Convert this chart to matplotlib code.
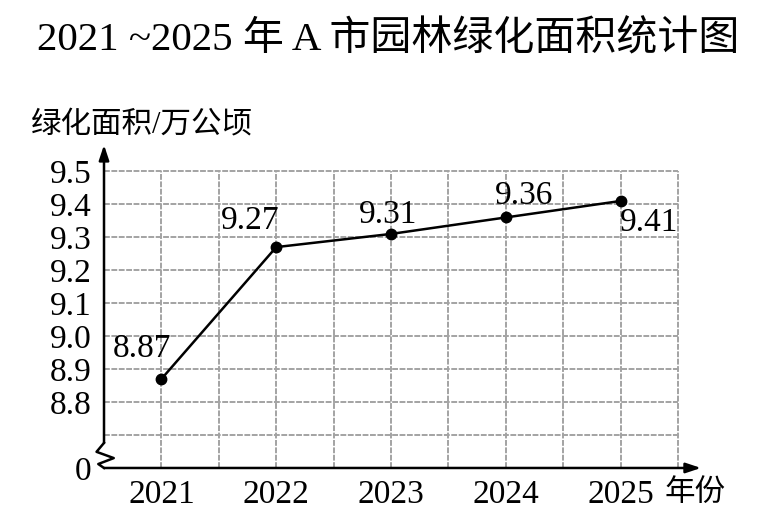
import matplotlib
matplotlib.use("Agg")
import matplotlib.pyplot as plt

plt.rcParams['font.family'] = ['Liberation Serif', 'Noto Sans CJK SC', 'DejaVu Sans']

years = [2021, 2022, 2023, 2024, 2025]
area = [8.87, 9.27, 9.31, 9.36, 9.41]
value_labels = ['8.87', '9.27', '9.31', '9.36', '9.41']
# label offsets in points (dx, dy)
label_offsets = [(-13.7, 21.6), (-18.7, 18.7), (-2.2, 13.7), (13, 15.8), (20.2, -15.8)]
ytick_vals = [8.6, 8.8, 8.9, 9.0, 9.1, 9.2, 9.3, 9.4, 9.5]
ytick_labels = ['0', '8.8', '8.9', '9.0', '9.1', '9.2', '9.3', '9.4', '9.5']

fig = plt.figure(figsize=(7.71, 5.27), dpi=100)
ax = fig.add_axes([0.1349, 0.112, 0.7743, 0.613])

x0, x1 = 2020.5, 2025.7
y0, y1 = 8.6, 9.58
ax.set_xlim(x0, x1)
ax.set_ylim(y0, y1)

# grid (only up to 9.5 / 2025.5)
grid_kw = dict(color='#a3a3a3', lw=1.4, ls=(0, (3, 0.8)), zorder=1)
for k in range(1, 10):
    ax.hlines(8.6 + 0.1 * k, x0, 2025.5, **grid_kw)
for k in range(1, 11):
    ax.vlines(x0 + 0.5 * k, y0, 9.5, **grid_kw)

for s in ax.spines.values():
    s.set_visible(False)

# axes with arrows and the break mark on y axis
arrow = dict(arrowstyle='-|>,head_length=0.9,head_width=0.3', color='black', lw=1.8,
             shrinkA=0, shrinkB=0)
ax.annotate('', xy=(x1, y0), xytext=(x0, y0), annotation_clip=False, arrowprops=arrow)
ax.annotate('', xy=(x0, y1), xytext=(x0, 8.676), annotation_clip=False, arrowprops=arrow)
ax.plot([x0, 2020.435, 2020.585, 2020.45, x0], [8.676, 8.649, 8.630, 8.612, 8.6],
        color='black', lw=1.8, clip_on=False, zorder=3)

ax.plot(years, area, color='black', lw=1.8, marker='o', markersize=7.5, zorder=4)
for x, y, lab, off in zip(years, area, value_labels, label_offsets):
    ax.annotate(lab, xy=(x, y), xytext=off, textcoords='offset points',
                ha='center', va='center', fontsize=24)

ax.set_xticks(years)
ax.set_xticklabels([str(y) for y in years], fontsize=24)
ax.set_yticks(ytick_vals)
ax.set_yticklabels(ytick_labels, fontsize=24)
ax.tick_params(axis='both', length=0)
ax.tick_params(axis='x', pad=8)
ax.tick_params(axis='y', pad=9)

fig.text(0.503, 0.924, '2021 ~2025 年 A 市园林绿化面积统计图', fontsize=29.5,
         ha='center', va='center')
fig.text(0.04, 0.763, '绿化面积/万公顷', fontsize=22, ha='left', va='center')
fig.text(0.862, 0.064, '年份', fontsize=22, ha='left', va='center')

fig.savefig('out.png', dpi=100)
